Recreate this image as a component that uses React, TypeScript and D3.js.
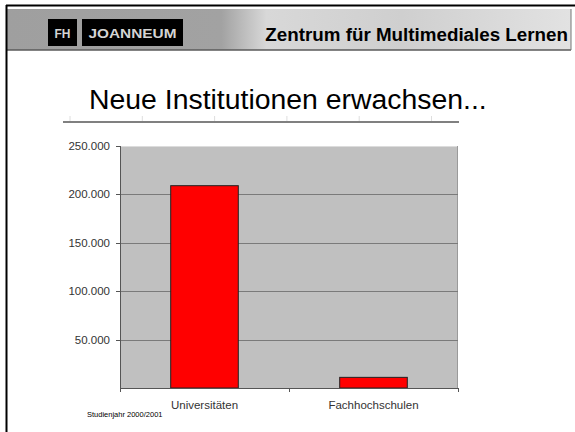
import React from "react";
import * as d3 from "d3";

const categories = ["Universitäten", "Fachhochschulen"];
const values = [209000, 11000];
const yTicks = [50000, 100000, 150000, 200000, 250000];
const yTickLabels = ["50.000", "100.000", "150.000", "200.000", "250.000"];
const headerTitle = "Zentrum für Multimediales Lernen";
const slideTitle = "Neue Institutionen erwachsen...";
const footnote = "Studienjahr  2000/2001";

const W = 575;
const H = 432;
const FONT = "Arial, 'Liberation Sans', Helvetica, sans-serif";

export default function App() {
  const plot = { left: 120, right: 458, top: 146, bottom: 388 };
  const x = d3.scaleBand<string>().domain(categories).range([plot.left, plot.right]).paddingInner(0.6).paddingOuter(0.3);
  const xOuter = d3.scaleBand<string>().domain(categories).range([plot.left, plot.right]);
  const y = d3.scaleLinear().domain([0, 250000]).range([plot.bottom, plot.top]);
  const ruleTicks = d3.range(6).map((i) => 70 + i * 72.3);

  return (
    <svg
      width={W}
      height={H}
      style={{ position: "fixed", left: 0, top: 0, background: "#fff" }}
      fontFamily={FONT}
    >
      <defs>
        <linearGradient id="hdr" x1="0" x2="1" y1="0" y2="0">
          <stop offset="0" stopColor="#9f9f9f" />
          <stop offset="0.38" stopColor="#a2a2a2" />
          <stop offset="0.46" stopColor="#d8d8d8" />
          <stop offset="0.7" stopColor="#cfcfcf" />
          <stop offset="1" stopColor="#e2e2e2" />
        </linearGradient>
      </defs>
      {/* header band */}
      <rect x={7} y={9} width={564} height={41} fill="url(#hdr)" />
      <line x1={7} x2={571} y1={50} y2={50} stroke="#5a5a5a" strokeWidth={1.5} />
      <line x1={571} x2={571} y1={9} y2={50} stroke="#777" strokeWidth={1} />
      {/* frame */}
      <line x1={6} x2={575} y1={5.5} y2={5.5} stroke="#000" strokeWidth={2} />
      <line x1={6.5} x2={6.5} y1={5} y2={432} stroke="#000" strokeWidth={2} />
      {/* logo */}
      <rect x={48} y={19} width={29} height={27} fill="#000" />
      <rect x={82} y={19} width={101} height={27} fill="#000" />
      <text x={62.5} y={38} textAnchor="middle" fontSize={12} fontWeight="bold" fill="#d4d4d4">FH</text>
      <text x={132.5} y={38} textAnchor="middle" fontSize={12} fontWeight="bold" fill="#d4d4d4" textLength={88} lengthAdjust="spacingAndGlyphs">JOANNEUM</text>
      <text x={568} y={41} textAnchor="end" fontSize={18.8} fontWeight="bold" fill="#000">{headerTitle}</text>

      {/* slide title */}
      <text x={89} y={109} fontSize={28.4} fill="#000">{slideTitle}</text>
      <line x1={63} x2={459} y1={122} y2={122} stroke="#808080" strokeWidth={2} />
      {ruleTicks.map((t, i) => (
        <line key={i} x1={t} x2={t} y1={116} y2={121} stroke="#dedede" strokeWidth={1} />
      ))}

      {/* plot area */}
      <rect x={plot.left} y={plot.top} width={plot.right - plot.left} height={plot.bottom - plot.top} fill="#c0c0c0" />
      <line x1={plot.left} x2={plot.right} y1={plot.top + 0.5} y2={plot.top + 0.5} stroke="#dcdcdc" />
      <line x1={plot.right - 0.5} x2={plot.right - 0.5} y1={plot.top} y2={plot.bottom} stroke="#9a9a9a" />
      {yTicks.slice(0, 4).map((t) => (
        <line key={t} x1={plot.left} x2={plot.right} y1={Math.round(y(t)) + 0.5} y2={Math.round(y(t)) + 0.5} stroke="#7a7a7a" />
      ))}
      {/* bars */}
      {categories.map((c, i) => (
        <rect
          key={c}
          x={x(c)!}
          y={y(values[i])}
          width={x.bandwidth()}
          height={plot.bottom - y(values[i])}
          fill="#ff0000"
          stroke="#222"
          strokeWidth={1}
        />
      ))}
      {/* y axis */}
      <line x1={plot.left + 0.5} x2={plot.left + 0.5} y1={plot.top} y2={plot.bottom} stroke="#555" />
      {yTicks.map((t, i) => (
        <g key={t}>
          <line x1={plot.left - 4} x2={plot.left} y1={Math.round(y(t)) + 0.5} y2={Math.round(y(t)) + 0.5} stroke="#555" />
          <text x={110} y={y(t) + 4} textAnchor="end" fontSize={11.5} fill="#333">{yTickLabels[i]}</text>
        </g>
      ))}
      {/* x axis */}
      <line x1={plot.left} x2={plot.right} y1={plot.bottom + 0.5} y2={plot.bottom + 0.5} stroke="#555" />
      {[plot.left, ...categories.map((c) => xOuter(c)! + xOuter.bandwidth())].map((t, i) => (
        <line key={i} x1={t + 0.5} x2={t + 0.5} y1={plot.bottom} y2={plot.bottom + 4} stroke="#555" />
      ))}
      {categories.map((c) => (
        <text key={c} x={xOuter(c)! + xOuter.bandwidth() / 2} y={409} textAnchor="middle" fontSize={11.5} fill="#333">{c}</text>
      ))}
      <text x={87} y={417} fontSize={7.5} fill="#000">{footnote}</text>
    </svg>
  );
}
